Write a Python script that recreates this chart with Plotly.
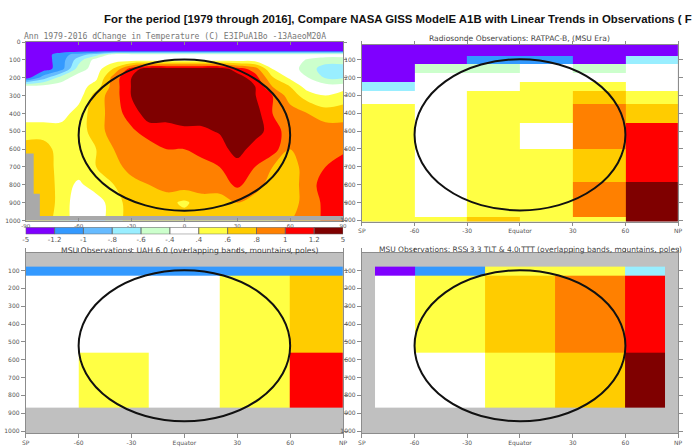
import numpy as np
import plotly.graph_objects as go

W, H = 694, 447

# Temperature-change classes (C) and their fill colours, shared by all panels
CLASS_BOUNDS = [-5, -1.2, -1.0, -0.8, -0.6, -0.4, 0.4, 0.6, 0.8, 1.0, 1.2, 5]
CLASS_COLORS = ["#7f00ff", "#3399ff", "#66bbff", "#99eeff", "#ccffcc", "#ffffff",
                "#ffff44", "#ffcc00", "#ff8000", "#ff0000", "#7f0000"]

# GISS ModelE A1B zonal-mean temperature change, 1979-2016 (C)
MODEL_LAT = [-90, -80, -70, -60, -50, -40, -30, -20, -10, 0, 10, 20, 30, 40, 50, 60, 70, 80, 90]
MODEL_P = [0, 50, 70, 100, 150, 200, 250, 300, 400, 500, 600, 700, 800, 900, 1000]
MODEL_TREND = [
    [-1.5, -1.5, -1.5, -1.5, -1.5, -1.5, -1.5, -1.5, -1.5, -1.5, -1.5, -1.5, -1.5, -1.5, -1.5, -1.5, -1.5, -1.5, -1.5],
    [-1.4, -1.4, -1.4, -1.4, -1.4, -1.4, -1.4, -1.4, -1.4, -1.4, -1.4, -1.4, -1.4, -1.4, -1.4, -1.4, -1.4, -1.4, -1.4],
    [-1.4, -1.4, -1.1, -0.9, -0.7, 0.0, 0.0, 0.0, 0.0, 0.0, 0.0, 0.0, 0.0, 0.0, 0.0, 0.0, 0.0, 0.0, 0.0],
    [-1.4, -1.4, -1.1, -0.7, 0.0, 0.0, 0.0, 0.0, 0.0, 0.0, 0.0, 0.0, 0.0, 0.0, 0.0, 0.0, -0.42, -0.5, -0.5],
    [-1.4, -1.4, -1.1, -0.5, 0.0, 0.62, 1.1, 1.4, 1.4, 1.4, 1.4, 1.4, 1.1, 0.9, 0.38, 0.0, -0.5, -0.7, -0.7],
    [-1.4, -0.9, -0.5, 0.0, 0.24, 0.9, 1.2, 1.4, 1.4, 1.4, 1.4, 1.4, 1.4, 1.1, 0.62, 0.24, -0.38, -0.62, -0.62],
    [0.0, 0.0, 0.0, 0.0, 0.5, 0.9, 1.22, 1.4, 1.4, 1.4, 1.4, 1.4, 1.4, 1.22, 0.8, 0.6, 0.0, 0.0, 0.0],
    [0.0, 0.0, 0.0, 0.0, 0.7, 0.9, 1.22, 1.4, 1.4, 1.4, 1.4, 1.4, 1.4, 1.22, 1.0, 0.7, 0.5, 0.4, 0.5],
    [0.0, 0.0, 0.0, 0.5, 0.7, 0.9, 1.1, 1.4, 1.4, 1.4, 1.4, 1.4, 1.4, 1.4, 1.0, 0.9, 0.8, 0.7, 0.7],
    [0.5, 0.5, 0.5, 0.5, 0.7, 0.9, 0.96, 1.1, 1.1, 1.16, 1.16, 1.24, 1.4, 1.4, 1.1, 0.9, 0.9, 0.9, 0.9],
    [0.7, 0.7, 0.5, 0.5, 0.6, 0.8, 0.9, 0.9, 1.0, 1.0, 1.1, 1.1, 1.4, 1.1, 1.1, 0.8, 0.9, 0.9, 0.96],
    [0.7, 0.74, 0.5, 0.5, 0.6, 0.7, 0.9, 0.9, 0.9, 0.9, 0.9, 1.0, 1.1, 1.0, 0.8, 0.7, 0.9, 1.0, 1.1],
    [0.75, 0.78, 0.5, 0.24, 0.5, 0.6, 0.7, 0.8, 0.9, 0.9, 0.9, 0.9, 1.04, 0.9, 0.7, 0.7, 0.9, 1.1, 1.1],
    [0.76, 0.79, 0.5, 0.0, 0.0, 0.5, 0.7, 0.7, 0.66, 0.56, 0.7, 0.7, 0.8, 0.7, 0.7, 0.7, 0.9, 1.04, 1.1],
    [0.72, 0.7, 0.5, 0.0, 0.0, 0.5, 0.7, 0.7, 0.7, 0.7, 0.7, 0.7, 0.7, 0.8, 0.8, 0.8, 0.9, 1.04, 1.1],
]

# Model surface (Antarctic plateau and lowest level), hPa
TERRAIN_LAT_EDGES = [-90, -85.5, -82, 90]
TERRAIN_SURFACE_P = [625, 850, 975]

# RATPAC-B radiosonde trends in latitude bands and pressure layers
RAOB_LAT_EDGES = [-90, -60, -30, 0, 30, 60, 90]
RAOB_P_EDGES = [18, 82, 124, 176, 227, 278, 351, 455, 601, 783, 983, 1007]
RAOB_TREND = [
    [-1.45, -1.38, -1.30, -1.33, -1.41, -1.27],
    [-1.36, -1.29, -1.08, -1.12, -1.25, -0.72],
    [-1.31, -0.52, -0.47, 0.12, -0.55, 0.05],
    [-1.24, -0.21, 0.08, 0.31, 0.26, -0.15],
    [-0.68, -0.05, 0.22, 0.47, 0.52, 0.18],
    [0.14, 0.09, 0.44, 0.51, 0.71, 0.56],
    [0.48, 0.33, 0.53, 0.58, 0.92, 0.74],
    [0.55, 0.27, 0.57, 0.35, 0.95, 1.12],
    [0.50, 0.30, 0.49, 0.46, 0.76, 1.18],
    [0.46, 0.36, 0.52, 0.57, 0.86, 1.31],
    [0.45, 0.48, 0.63, 0.54, 0.45, 1.36],
]

# MSU layer trends: UAH 6.0 and RSS (TTT over TLT), overlapping bands
MSU_P_EDGES = [78, 127, 558, 867]
UAH_LAT_EDGES = [-90, -60, -20, 20, 60, 90]
UAH_TREND = [
    [-1.06, -1.10, -1.13, -1.08, -1.04],
    [0.12, 0.25, 0.31, 0.47, 0.74],
    [0.18, 0.43, 0.36, 0.52, 1.09],
]
RSS_LAT_EDGES = [-82.5, -60, -20, 20, 60, 82.5]
RSS_TREND = [
    [-1.28, -1.07, 0.45, 0.52, -0.71],
    [0.21, 0.55, 0.68, 0.88, 1.15],
    [0.10, 0.34, 0.50, 0.74, 1.33],
]

# Region highlighted in every panel
ELLIPSE_LAT = (-60, 60)
ELLIPSE_P = (98, 945)

LAT_TICKS = [-90, -60, -30, 0, 30, 60, 90]
LAT_TEXT = ["SP", "-60", "-30", "Equator", "30", "60", "NP"]
P_TICKS = list(range(100, 1001, 100))

TITLE = ("For the period [1979 through 2016], Compare NASA GISS ModelE A1B "
         "with Linear Trends in Observations ( F")
PANEL_TITLES = [
    "Ann 1979-2016 dChange in Temperature (C) E3IPuA1Bo -13AaeoM20A",
    "Radiosonde Observations: RATPAC-B, (MSU Era)",
    "MSU Observations: UAH 6.0 (overlapping bands, mountains, poles)",
    "MSU Observations: RSS 3.3 TLT & 4.0 TTT (overlapping bands, mountains, poles)",
]

FONT = "DejaVu Sans"
GRAY_TXT = "#555555"
FRAME = "#8c8c8c"


def xdom(a, b):
    return [a / W, b / W]


def ydom(top, bottom):
    return [1 - bottom / H, 1 - top / H]


def class_index(values):
    return np.digitize(np.asarray(values, dtype=float), CLASS_BOUNDS[1:-1])


def fmt_bound(b):
    s = f"{b:g}"
    return s.replace("0.", ".")


n_cls = len(CLASS_COLORS)

# stepped scale for class indices 0..10 (heatmaps)
heat_cs = []
for k, c in enumerate(CLASS_COLORS):
    heat_cs += [[k / n_cls, c], [(k + 1) / n_cls, c]]

# stepped scale for the filled contour bands (one band per class)
edges = [0.0] + [(k + 0.75) / 10 for k in range(10)] + [1.0]
cont_cs = []
for k, c in enumerate(CLASS_COLORS):
    cont_cs += [[edges[k], c], [edges[k + 1], c]]

# piecewise-linear class coordinate so contour levels fall on class bounds;
# the tiny offset keeps grid values off the exact level values
stops = [-1.6] + CLASS_BOUNDS[1:-1] + [1.6]
model_t = np.interp(np.asarray(MODEL_TREND, dtype=float), stops, np.arange(len(stops))) + 1e-3

fig = go.Figure()

fig.add_trace(go.Contour(
    x=MODEL_LAT, y=MODEL_P, z=model_t,
    autocontour=False,
    contours=dict(start=1, end=10, size=1, coloring="fill", showlines=False),
    line=dict(width=0, smoothing=1),
    colorscale=cont_cs, showscale=False, hoverinfo="skip",
    xaxis="x", yaxis="y",
))

# model terrain outline as a stepped polygon
tx, ty = [TERRAIN_LAT_EDGES[0]], [1000]
for i, ps in enumerate(TERRAIN_SURFACE_P):
    tx += [TERRAIN_LAT_EDGES[i], TERRAIN_LAT_EDGES[i + 1]]
    ty += [ps, ps]
tx += [TERRAIN_LAT_EDGES[-1], TERRAIN_LAT_EDGES[0]]
ty += [1000, 1000]
fig.add_trace(go.Scatter(
    x=tx, y=ty, mode="lines", fill="toself", fillcolor="#a9a9a9",
    line=dict(width=0), hoverinfo="skip", showlegend=False,
    xaxis="x", yaxis="y",
))

for lat_e, p_e, trend, ax in [
    (RAOB_LAT_EDGES, RAOB_P_EDGES, RAOB_TREND, "2"),
    (UAH_LAT_EDGES, MSU_P_EDGES, UAH_TREND, "3"),
    (RSS_LAT_EDGES, MSU_P_EDGES, RSS_TREND, "4"),
]:
    fig.add_trace(go.Heatmap(
        x=lat_e, y=p_e, z=class_index(trend),
        colorscale=heat_cs, zmin=-0.5, zmax=n_cls - 0.5,
        showscale=False, hoverinfo="skip",
        xaxis="x" + ax, yaxis="y" + ax,
    ))

# class colour key under the model panel
fig.add_trace(go.Bar(
    x=list(range(n_cls)), y=[1] * n_cls, width=1,
    marker=dict(color=CLASS_COLORS, line=dict(color="#666666", width=0.8)),
    hoverinfo="skip", showlegend=False, xaxis="x5", yaxis="y5",
))


def axis(**kw):
    base = dict(showline=True, linecolor=FRAME, linewidth=1, mirror="ticks",
                ticks="outside", ticklen=3, tickcolor=FRAME, tickwidth=1,
                tickfont=dict(family=FONT, size=6, color=GRAY_TXT),
                showgrid=False, zeroline=False, fixedrange=True)
    base.update(kw)
    return base


layout_axes = dict(
    xaxis=axis(domain=xdom(22, 343), range=[-90, 90], tickvals=LAT_TICKS,
               ticktext=[str(v) for v in LAT_TICKS], anchor="y",
               ticks="inside", ticklen=3,
               tickfont=dict(family=FONT, size=5.5, color=GRAY_TXT)),
    yaxis=axis(domain=ydom(39, 222), range=[1000, 0],
               tickvals=[0] + P_TICKS, anchor="x"),
    xaxis2=axis(domain=xdom(362, 682), range=[-90, 90], tickvals=LAT_TICKS,
                ticktext=LAT_TEXT, anchor="y2"),
    yaxis2=axis(domain=ydom(42, 223), range=[RAOB_P_EDGES[-1], RAOB_P_EDGES[0]],
                tickvals=P_TICKS, anchor="x2", ticklen=4),
    xaxis3=axis(domain=xdom(22, 343), range=[-90, 90], tickvals=LAT_TICKS,
                ticktext=LAT_TEXT, anchor="y3", ticklen=4),
    yaxis3=axis(domain=ydom(255, 440), range=[1012, 0], tickvals=P_TICKS,
                anchor="x3", ticklen=4),
    xaxis4=axis(domain=xdom(362, 682), range=[-90, 90], tickvals=LAT_TICKS,
                ticktext=LAT_TEXT, anchor="y4", ticklen=4),
    yaxis4=axis(domain=ydom(255, 440), range=[1012, 0], tickvals=P_TICKS,
                anchor="x4", ticklen=4),
    xaxis5=dict(domain=xdom(22, 343), range=[-0.5, n_cls - 0.5],
                tickvals=[k - 0.5 for k in range(n_cls + 1)],
                ticktext=[fmt_bound(b) for b in CLASS_BOUNDS],
                showline=False, ticks="", showgrid=False, zeroline=False,
                tickfont=dict(family=FONT, size=7, color=GRAY_TXT),
                anchor="y5", fixedrange=True),
    yaxis5=dict(domain=ydom(229, 236), range=[0, 1], visible=False,
                anchor="x5", fixedrange=True),
)

shapes = []
for ax in ["", "2", "3", "4"]:
    shapes.append(dict(
        type="circle", xref="x" + ax, yref="y" + ax,
        x0=ELLIPSE_LAT[0], x1=ELLIPSE_LAT[1], y0=ELLIPSE_P[0], y1=ELLIPSE_P[1],
        line=dict(color="#111111", width=2), layer="above",
    ))

annotations = [
    dict(text="<b>" + TITLE + "</b>", x=99 / W, y=1 - 15 / H, xref="paper", yref="paper",
         xanchor="left", yanchor="middle", showarrow=False,
         font=dict(family="Liberation Sans", size=11.4, color="#111111")),
    dict(text=PANEL_TITLES[0], x=18 / W, y=1 - 32.5 / H, xref="paper", yref="paper",
         xanchor="left", yanchor="middle", showarrow=False,
         font=dict(family="DejaVu Sans Mono", size=8.1, color="#777777")),
    dict(text=PANEL_TITLES[1], x=522 / W, y=1 - 35.5 / H, xref="paper", yref="paper",
         xanchor="center", yanchor="middle", showarrow=False,
         font=dict(family=FONT, size=7.6, color="#444444")),
    dict(text=PANEL_TITLES[2], x=188 / W, y=1 - 252.5 / H, xref="paper", yref="paper",
         xanchor="center", yanchor="middle", showarrow=False,
         font=dict(family=FONT, size=7.7, color="#444444")),
    dict(text=PANEL_TITLES[3], x=533 / W, y=1 - 251.5 / H, xref="paper", yref="paper",
         xanchor="center", yanchor="middle", showarrow=False,
         font=dict(family=FONT, size=7.5, color="#444444")),
]

fig.update_layout(
    width=W, height=H, autosize=False,
    margin=dict(l=0, r=0, t=0, b=0),
    paper_bgcolor="white", plot_bgcolor="#c0c0c0",
    showlegend=False, shapes=shapes, annotations=annotations,
    **layout_axes,
)

fig.write_html("out.html")
